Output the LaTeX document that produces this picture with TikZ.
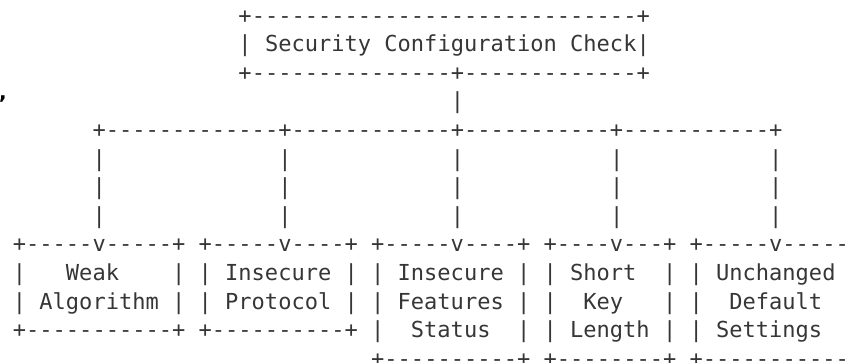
\documentclass[tikz,border=0pt]{standalone}
\usepackage{fontspec}
\newfontfamily\asciimono{DejaVu Sans Mono}
\newfontfamily\marksans{DejaVu Sans}
\definecolor{ink}{HTML}{363636}
% character grid: column width and line pitch, in pt
\def\cw{13.27}
\def\lp{28.6}
\def\xo{12.9}
\begin{document}
\begin{tikzpicture}[x=1pt,y=1pt,
  asciiline/.style={anchor=base west, inner sep=0pt, outer sep=0pt,
    font=\asciimono\fontsize{22.04}{26}\selectfont, text=ink}]
\useasboundingbox (0,0) rectangle (849,-363);
\clip (0,0) rectangle (849,-363);
% text row r, starting at column c
\newcommand\asciirow[4]{%
  \node[asciiline] (#1) at ({\xo+#2*\cw}, {-(23.2+#3*\lp)}) {#4};}
% top box
\asciirow{r0}{17}{0}{+-----------------------------+}
\asciirow{r1}{17}{1}{|~Security~Configuration~Check|}
\asciirow{r2}{17}{2}{+---------------+-------------+}
% trunk and branch bar
\asciirow{r3}{33}{3}{|}
\asciirow{r4}{6}{4}{+-------------+------------+-----------+-----------+}
\asciirow{r5}{6}{5}{|~~~~~~~~~~~~~|~~~~~~~~~~~~|~~~~~~~~~~~|~~~~~~~~~~~|}
\asciirow{r6}{6}{6}{|~~~~~~~~~~~~~|~~~~~~~~~~~~|~~~~~~~~~~~|~~~~~~~~~~~|}
\asciirow{r7}{6}{7}{|~~~~~~~~~~~~~|~~~~~~~~~~~~|~~~~~~~~~~~|~~~~~~~~~~~|}
% the five result boxes
\asciirow{r8}{0}{8}{+-----v-----+~+-----v----+~+-----v----+~+----v---+~+-----v-----+}
\asciirow{r9}{0}{9}{|~~~Weak~~~~|~|~Insecure~|~|~Insecure~|~|~Short~~|~|~Unchanged~|}
\asciirow{r10}{0}{10}{|~Algorithm~|~|~Protocol~|~|~Features~|~|~~Key~~~|~|~~Default~~|}
\asciirow{r11}{0}{11}{+-----------+~+----------+~|~~Status~~|~|~Length~|~|~Settings~~|}
\asciirow{r12}{27}{12}{+----------+~+--------+~+-----------+}
% stray comma at the left margin
\node[anchor=base west, inner sep=0pt, font=\marksans\bfseries\fontsize{20}{24}\selectfont, text=black] (mark) at (-1,-100) {,};
\end{tikzpicture}
\end{document}
